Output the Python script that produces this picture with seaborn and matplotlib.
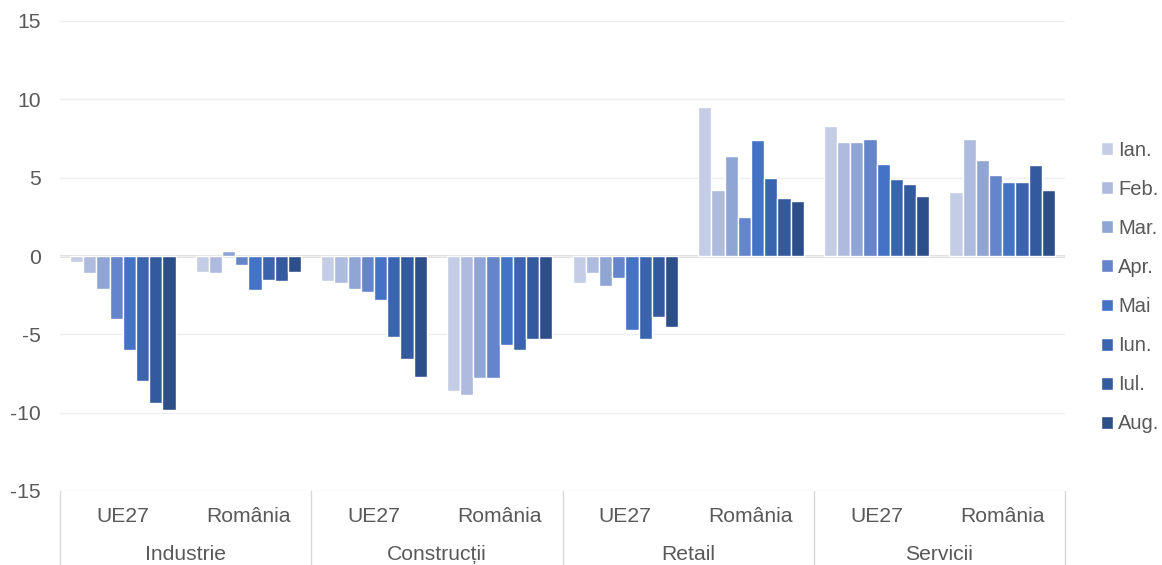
import matplotlib
matplotlib.use("Agg")
import matplotlib.pyplot as plt
from matplotlib.lines import Line2D
from matplotlib.transforms import blended_transform_factory
import seaborn as sns
import pandas as pd

sectors = ["Industrie", "Construcții", "Retail", "Servicii"]
regions = ["UE27", "România"]
months = ["Ian.", "Feb.", "Mar.", "Apr.", "Mai", "Iun.", "Iul.", "Aug."]

industrie_ue27 = [-0.4, -1.1, -2.1, -4.0, -6.0, -8.0, -9.4, -9.8]
industrie_ro = [-1.0, -1.1, 0.3, -0.6, -2.2, -1.5, -1.6, -1.0]
constructii_ue27 = [-1.6, -1.7, -2.1, -2.3, -2.8, -5.2, -6.6, -7.7]
constructii_ro = [-8.6, -8.9, -7.8, -7.8, -5.7, -6.0, -5.3, -5.3]
retail_ue27 = [-1.7, -1.1, -1.9, -1.4, -4.7, -5.3, -3.9, -4.5]
retail_ro = [9.5, 4.2, 6.4, 2.5, 7.4, 5.0, 3.7, 3.5]
servicii_ue27 = [8.3, 7.3, 7.3, 7.5, 5.9, 4.9, 4.6, 3.8]
servicii_ro = [4.1, 7.5, 6.1, 5.2, 4.7, 4.7, 5.8, 4.2]

colors = ["#c5cde6", "#aebade", "#8fa5d4", "#6485c9", "#4472c4", "#3a64ae", "#335a9d", "#2d4f89"]

series = [
    ("Industrie", "UE27", industrie_ue27),
    ("Industrie", "România", industrie_ro),
    ("Construcții", "UE27", constructii_ue27),
    ("Construcții", "România", constructii_ro),
    ("Retail", "UE27", retail_ue27),
    ("Retail", "România", retail_ro),
    ("Servicii", "UE27", servicii_ue27),
    ("Servicii", "România", servicii_ro),
]
rows = []
groups = []
for sec, reg, vals in series:
    g = f"{sec}|{reg}"
    groups.append(g)
    for m, v in zip(months, vals):
        rows.append({"group": g, "month": m, "value": v})
df = pd.DataFrame(rows)

sns.set_theme(style="white")
plt.rcParams["font.family"] = ["Liberation Sans", "DejaVu Sans"]
plt.rcParams["axes.unicode_minus"] = False

W, H = 1162, 565
fig = plt.figure(figsize=(W / 100, H / 100), dpi=100)
ax = fig.add_axes([60 / W, 1 - 491 / H, 1005 / W, 470 / H])

sns.barplot(data=df, x="group", y="value", hue="month", order=groups,
            hue_order=months, palette=colors, saturation=1, width=0.84,
            edgecolor="white", linewidth=1, errorbar=None, ax=ax)

ax.set_xlim(-0.5, len(groups) - 0.5)
ax.set_ylim(-15, 15)
ax.set_yticks(range(-15, 16, 5))
ax.set_axisbelow(True)
ax.yaxis.grid(True, color="#efefef", lw=1)
ax.axhline(0, color="#d9d9d9", lw=2, zorder=0.5)
for s in ax.spines.values():
    s.set_visible(False)
ax.set_xticks([])
ax.set_xlabel("")
ax.set_ylabel("")
fs = 15.2
ax.tick_params(axis="y", length=0, pad=14, labelsize=fs, labelcolor="#595959")

text_color = "#595959"
trans = blended_transform_factory(ax.transData, fig.transFigure)
for i, (sec, reg, _) in enumerate(series):
    ax.text(i, 1 - 516 / H, reg, transform=trans, ha="center", va="center",
            fontsize=fs, color=text_color)
for k, sec in enumerate(sectors):
    ax.text(2 * k + 0.5, 1 - 554 / H, sec, transform=trans, ha="center",
            va="center", fontsize=fs, color=text_color)
for xb in [-0.5, 1.5, 3.5, 5.5, 7.5]:
    ax.add_line(Line2D([xb, xb], [1 - 491 / H, 0], transform=trans,
                       color="#d9d9d9", lw=1, clip_on=False))

handles, labels = ax.get_legend_handles_labels()
ax.get_legend().remove()
fig.legend(handles, labels, loc="center left",
           bbox_to_anchor=(1101 / W, 1 - 287 / H), frameon=False,
           fontsize=14.5, labelcolor=text_color, handlelength=0.6,
           handleheight=0.6, handletextpad=0.25, labelspacing=1.0,
           borderpad=0, borderaxespad=0)

fig.savefig("out.png", dpi=100)
